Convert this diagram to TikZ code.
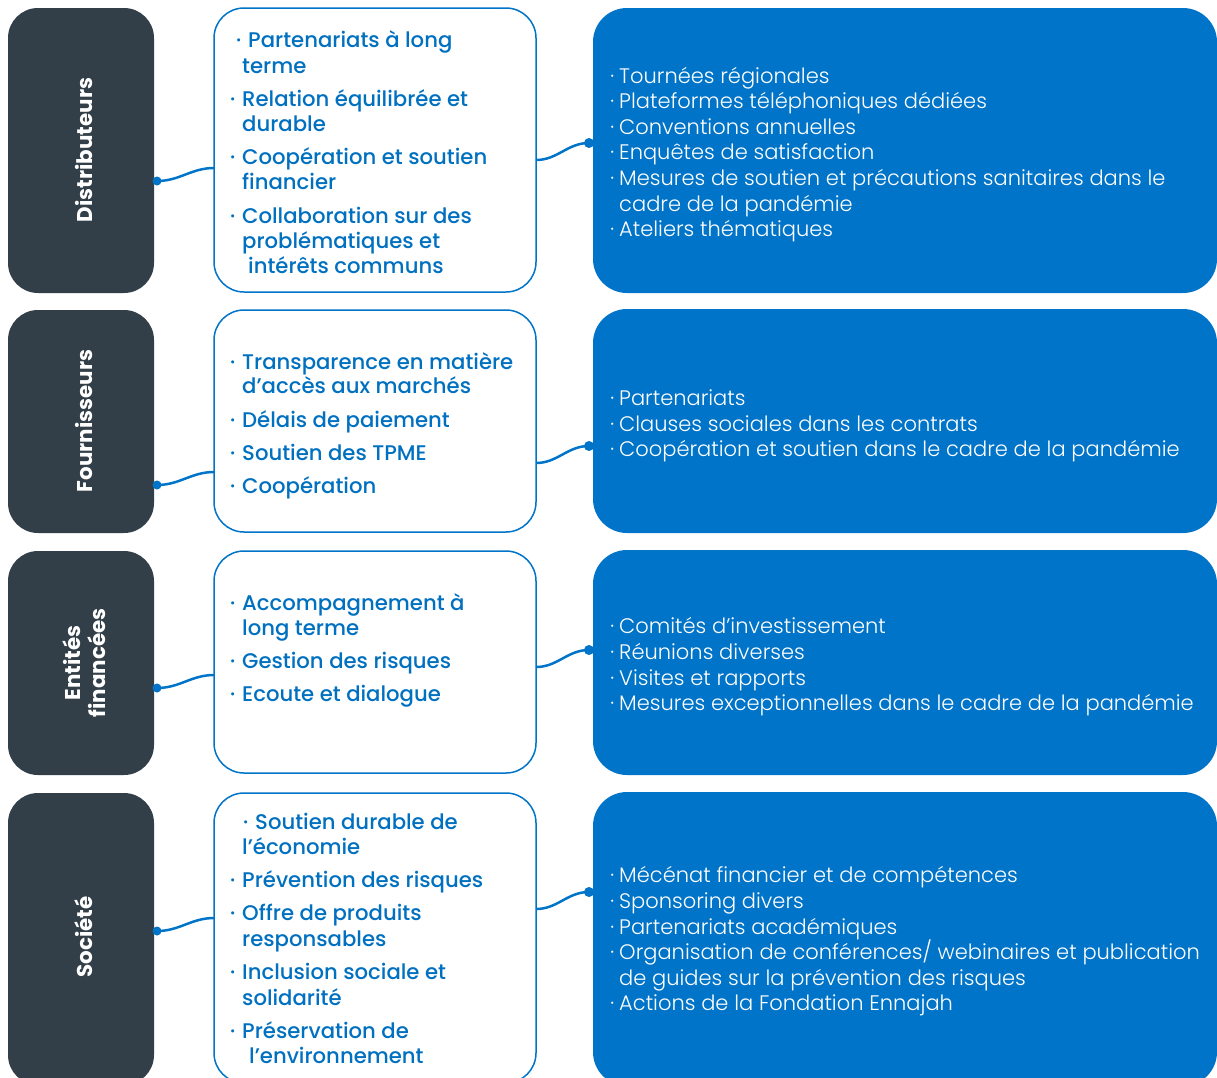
\documentclass[tikz,border=0pt]{standalone}
\usepackage{fontspec}
\setmainfont{Poppins}
\newfontfamily\lightf{Poppins Light}
\newfontfamily\medf{Poppins Medium}
\definecolor{darkbg}{HTML}{333F48}
\definecolor{myblue}{HTML}{0074C8}
\definecolor{txtblue}{HTML}{0070C0}
\newcommand\bl{\llap{·\hspace{7pt}}}
\newcommand\br{\llap{·\hspace{5pt}}}
\begin{document}
\begin{tikzpicture}[x=1pt,y=-1pt,
  darkbox/.style={fill=darkbg,rounded corners=30pt,inner sep=0,draw=none},
  midbox/.style={draw=myblue,line width=1.5pt,fill=white,rounded corners=30pt,inner sep=0},
  bluebox/.style={fill=myblue,rounded corners=34pt,inner sep=0,draw=none},
  lab/.style={text=white,font=\bfseries\fontsize{21.4}{25}\selectfont,align=center,rotate=90,inner sep=0},
  mtext/.style={text=txtblue,font=\medf\fontsize{21.2}{25}\selectfont,anchor=mid west,inner sep=0},
  rtext/.style={text=white,font=\lightf\fontsize{21}{25}\selectfont,anchor=mid west,inner sep=0},
  conn/.style={draw=myblue,line width=2.5pt},
  dotc/.style={fill=myblue}]
\useasboundingbox (0,0) rectangle (1217,1077);
\begin{scope}
\clip (0,0) rectangle (1217,1077);
% left boxes
\node[darkbox,minimum width=146pt,minimum height=285pt] (d1) at (81,150.5) {};
\node[darkbox,minimum width=146pt,minimum height=223pt] (d2) at (81,421.5) {};
\node[darkbox,minimum width=146pt,minimum height=224pt] (d3) at (81,663) {};
\node[darkbox,minimum width=146pt,minimum height=292pt] (d4) at (81,939) {};
% middle boxes
\node[midbox,minimum width=322pt,minimum height=284pt] (m1) at (375,150) {};
\node[midbox,minimum width=322pt,minimum height=222pt] (m2) at (375,421) {};
\node[midbox,minimum width=322pt,minimum height=222pt] (m3) at (375,662) {};
\node[midbox,minimum width=322pt,minimum height=290pt] (m4) at (375,938) {};
% right boxes
\node[bluebox,minimum width=624pt,minimum height=285pt] (b1) at (905,150.5) {};
\node[bluebox,minimum width=624pt,minimum height=224pt] (b2) at (905,421) {};
\node[bluebox,minimum width=624pt,minimum height=225pt] (b3) at (905,662.5) {};
\node[bluebox,minimum width=624pt,minimum height=294pt] (b4) at (905,939) {};
% labels
\node[lab] (L1) at (84,150) {Distributeurs};
\node[lab] (L2) at (84,421) {Fournisseurs};
\node[lab] (L3) at (84,663) {Entités\\financées};
\node[lab] (L4) at (84,937) {Société};
% connectors
\foreach \i/\a/\c in {1/181/143,2/485/446,3/688/650,4/931/892}{
  \coordinate (la\i) at (157,\a);
  \coordinate (lb\i) at (214,\a-13);
  \coordinate (ra\i) at (536,\c+17);
  \coordinate (rb\i) at (589,\c);
  \draw[conn] (la\i) to[out=0,in=180] (lb\i);
  \draw[conn] (ra\i) to[out=0,in=180] (rb\i);
  \fill[dotc] (la\i) circle (4.5pt);
  \fill[dotc] (rb\i) circle (5pt);
}
% middle texts
\foreach \x/\y/\t in {
  248/40/{\bl Partenariats à long},242/66/{terme},
  242/99/{\bl Relation équilibrée et},242/124/{durable},
  242/157/{\bl Coopération et soutien},242/182/{financier},
  242/216/{\bl Collaboration sur des},242/241/{problématiques et},248/266/{intérêts communs},
  242/362/{\bl Transparence en matière},242/386/{d’accès aux marchés},
  242/420/{\bl Délais de paiement},242/453/{\bl Soutien des TPME},242/486/{\bl Coopération},
  242/603/{\bl Accompagnement à},242/628/{long terme},
  242/661/{\bl Gestion des risques},242/694/{\bl Ecoute et dialogue},
  255/822/{\bl Soutien durable de},242/847/{l’économie},
  242/880/{\bl Prévention des risques},
  242/913/{\bl Offre de produits},242/939/{responsables},
  242/972/{\bl Inclusion sociale et},242/998/{solidarité},
  242/1031/{\bl Préservation de},249/1056/{l’environnement}}{
  \node[mtext] (mt\y) at (\x,\y+5) {\t};
}
% right texts
\foreach \y/\t in {
  76/{\br Tournées régionales},101/{\br Plateformes téléphoniques dédiées},
  127/{\br Conventions annuelles},152/{\br Enquêtes de satisfaction},
  178/{\br Mesures de soutien et précautions sanitaires dans le},204/{cadre de la pandémie},
  229/{\br Ateliers thématiques},
  398/{\br Partenariats},424/{\br Clauses sociales dans les contrats},
  449/{\br Coopération et soutien dans le cadre de la pandémie},
  626/{\br Comités d’investissement},652/{\br Réunions diverses},
  678/{\br Visites et rapports},703/{\br Mesures exceptionnelles dans le cadre de la pandémie},
  875/{\br Mécénat financier et de compétences},901/{\br Sponsoring divers},
  927/{\br Partenariats académiques},
  952/{\br Organisation de conférences/ webinaires et publication},
  978/{de guides sur la prévention des risques},
  1003/{\br Actions de la Fondation Ennajah}}{
  \node[rtext] (rt\y) at (619,\y+5) {\t};
}
\end{scope}
\end{tikzpicture}
\end{document}
